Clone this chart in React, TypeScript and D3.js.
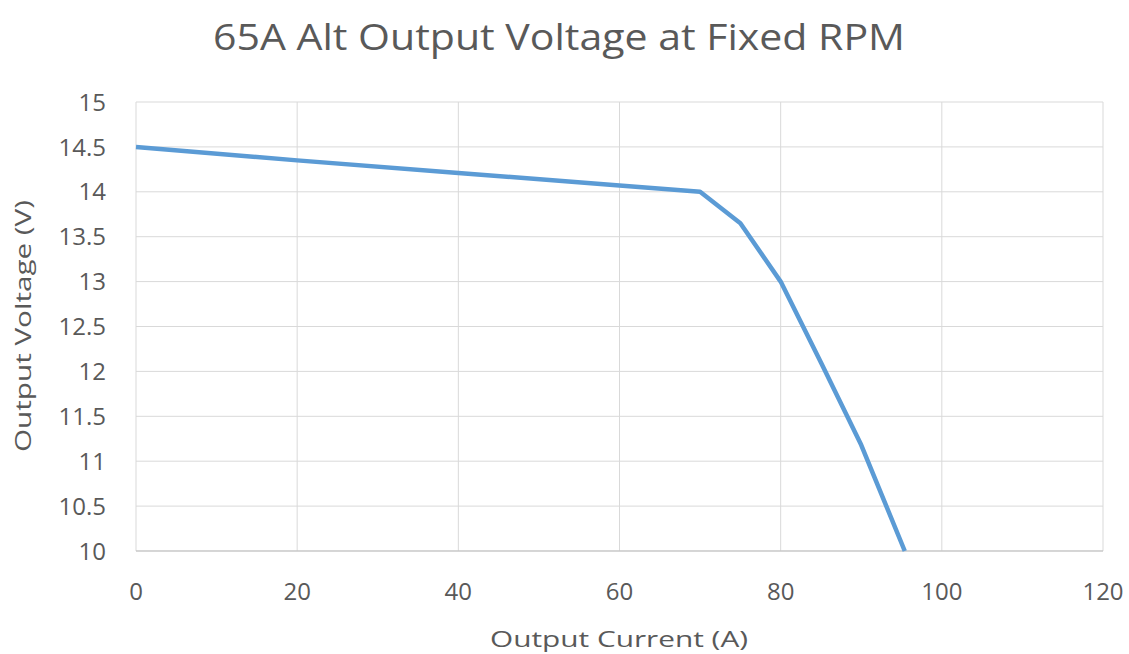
import React from "react";
import * as d3 from "d3";

const currentA = [0, 20, 40, 60, 70, 75, 80, 85, 90, 95.4];
const voltageV = [14.5, 14.35, 14.21, 14.07, 14.0, 13.65, 13.0, 12.1, 11.18, 10.0];
const xTicks = [0, 20, 40, 60, 80, 100, 120];
const yTicks = [10, 10.5, 11, 11.5, 12, 12.5, 13, 13.5, 14, 14.5, 15];

const W = 1129, H = 654;
const M = { left: 136, right: 1103, top: 102, bottom: 551 };

export default function App() {
  const x = d3.scaleLinear().domain([0, 120]).range([M.left, M.right]);
  const y = d3.scaleLinear().domain([10, 15]).range([M.bottom, M.top]);
  const pts: [number, number][] = currentA.map((c, i) => [c, voltageV[i]]);
  const line = d3.line<[number, number]>().x(d => x(d[0])).y(d => y(d[1]));
  const font = "'Open Sans', 'DejaVu Sans', sans-serif";
  return (
    <svg width={W} height={H} style={{ position: "absolute", left: 0, top: 0, background: "#fff" }}>
      <rect width={W} height={H} fill="#fff" />
      {xTicks.map(t => (
        <line key={"gx" + t} x1={x(t)} x2={x(t)} y1={M.top} y2={M.bottom} stroke="#d9d9d9" strokeWidth={1} />
      ))}
      {yTicks.map(t => (
        <line key={"gy" + t} x1={M.left} x2={M.right} y1={y(t)} y2={y(t)} stroke="#d9d9d9" strokeWidth={1} />
      ))}
      <line x1={M.left} x2={M.right} y1={M.bottom} y2={M.bottom} stroke="#bfbfbf" strokeWidth={1} />
      <path d={line(pts) || ""} fill="none" stroke="#5b9bd5" strokeWidth={4.5} strokeLinejoin="round" strokeLinecap="butt" />
      {xTicks.map(t => (
        <text key={"tx" + t} x={x(t)} y={600} textAnchor="middle" fontFamily={font} fontSize={24} fill="#595959">{t}</text>
      ))}
      {yTicks.map(t => (
        <text key={"ty" + t} x={106} y={y(t)} dy="0.36em" textAnchor="end" fontFamily={font} fontSize={24} fill="#595959">{t}</text>
      ))}
      <text x={619} y={647} textAnchor="middle" fontFamily={font} fontSize={22} fill="#595959" textLength={258} lengthAdjust="spacingAndGlyphs">Output Current (A)</text>
      <text transform={`translate(31,326) rotate(-90)`} textAnchor="middle" fontFamily={font} fontSize={22} fill="#595959" textLength={252} lengthAdjust="spacingAndGlyphs">Output Voltage (V)</text>
      <text x={559} y={50} textAnchor="middle" fontFamily={font} fontSize={36} fill="#595959" textLength={692} lengthAdjust="spacingAndGlyphs">65A Alt Output Voltage at Fixed RPM</text>
    </svg>
  );
}
